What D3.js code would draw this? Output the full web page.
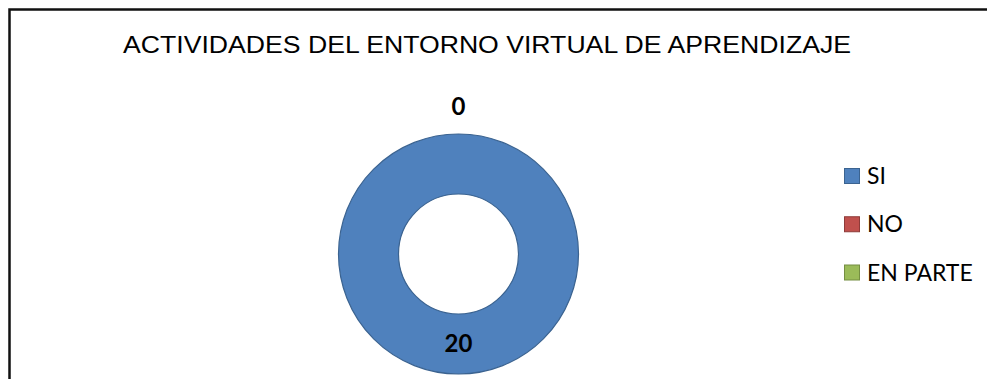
<!DOCTYPE html>
<html>
<head>
<meta charset="utf-8">
<script src="https://cdn.jsdelivr.net/npm/d3@7"></script>
<style>
  html, body { margin: 0; padding: 0; background: #fff; }
  svg { display: block; }
</style>
</head>
<body>
<script>
// Survey answers for the virtual learning environment activities
const categories = ["SI", "NO", "EN PARTE"];
const values = [20, 0, 0];
const sliceColors = ["#4F81BD", "#C0504D", "#9BBB59"];
const sliceEdges = ["#3B6390", "#8E3B39", "#758E42"];
const chartTitle = "ACTIVIDADES DEL ENTORNO VIRTUAL DE APRENDIZAJE";

const width = 987, height = 379;
const svg = d3.select("body").append("svg")
  .attr("width", width).attr("height", height);

// Chart frame (open on the right and bottom edges of the window)
svg.append("path")
  .attr("d", `M9.5,${height + 5} V9.5 H${width + 5}`)
  .attr("fill", "none")
  .attr("stroke", "#111")
  .attr("stroke-width", 2.5);

// Title
svg.append("text")
  .attr("x", 487).attr("y", 53)
  .attr("text-anchor", "middle")
  .attr("font-family", "'Liberation Sans', Arial, sans-serif")
  .attr("font-size", 24.5)
  .attr("textLength", 728)
  .attr("lengthAdjust", "spacingAndGlyphs")
  .attr("fill", "#000")
  .text(chartTitle);

// Doughnut
const cx = 458.5, cy = 254, outerR = 120, innerR = 60;
const color = d3.scaleOrdinal().domain(categories).range(sliceColors);
const edge = d3.scaleOrdinal().domain(categories).range(sliceEdges);

const pie = d3.pie().sort(null).value(d => d.value);
const arcs = pie(categories.map((c, i) => ({ name: c, value: values[i] })));
const arc = d3.arc().innerRadius(innerR).outerRadius(outerR);

const g = svg.append("g").attr("transform", `translate(${cx},${cy})`);
g.selectAll("path.slice")
  .data(arcs.filter(d => d.data.value > 0))
  .join("path")
  .attr("class", "slice")
  .attr("d", arc)
  .attr("fill", d => color(d.data.name))
  .attr("stroke", d => edge(d.data.name))
  .attr("stroke-width", 1.2);

// Data labels: inside the ring for non-empty slices, outside for empty ones
const labelArcIn = d3.arc().innerRadius(innerR).outerRadius(outerR);
const labelArcOut = d3.arc().innerRadius(147).outerRadius(147);
const seen = new Set();
const labels = [];
arcs.forEach(d => {
  const p = d.data.value > 0 ? labelArcIn.centroid(d) : labelArcOut.centroid(d);
  const key = Math.round(p[0]) + "," + Math.round(p[1]) + "," + d.data.value;
  if (seen.has(key)) return;
  seen.add(key);
  labels.push({ x: p[0], y: p[1], text: String(d.data.value) });
});
g.selectAll("text.val")
  .data(labels)
  .join("text")
  .attr("class", "val")
  .attr("x", d => d.x)
  .attr("y", d => d.y)
  .attr("dy", "0.35em")
  .attr("text-anchor", "middle")
  .attr("font-family", "Lato, 'Open Sans', sans-serif")
  .attr("font-weight", "bold")
  .attr("font-size", 24)
  .attr("fill", "#000")
  .text(d => d.text);

// Legend
const legendY = d3.scalePoint().domain(categories).range([176, 272.5]);
const legend = svg.append("g");
const items = legend.selectAll("g.item")
  .data(categories)
  .join("g")
  .attr("class", "item")
  .attr("transform", d => `translate(844,${legendY(d)})`);
items.append("rect")
  .attr("x", 0.5).attr("y", -7.5)
  .attr("width", 15).attr("height", 15)
  .attr("fill", d => color(d))
  .attr("stroke", d => edge(d))
  .attr("stroke-width", 1);
items.append("text")
  .attr("x", 23).attr("y", 8)
  .attr("font-family", "Lato, 'Open Sans', sans-serif")
  .attr("font-size", 23)
  .attr("fill", "#000")
  .text(d => d);
</script>
</body>
</html>
